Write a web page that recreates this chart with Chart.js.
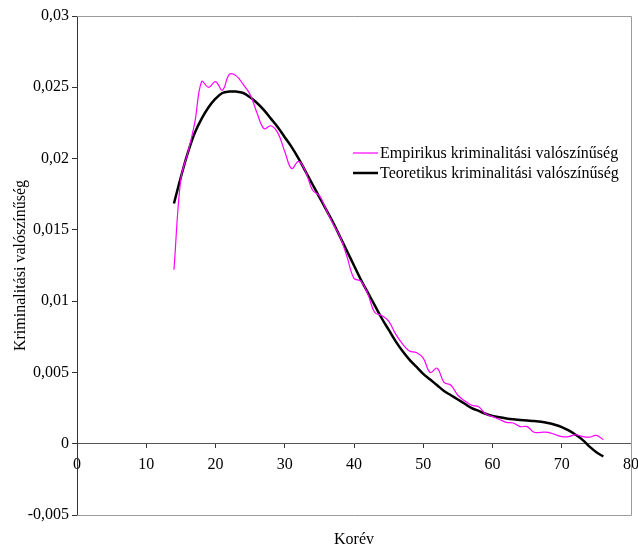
<!DOCTYPE html>
<html>
<head>
<meta charset="utf-8">
<script src="https://cdn.jsdelivr.net/npm/chart.js@4"></script>
<style>
  html, body { margin: 0; padding: 0; background: #fff; }
  #wrap { width: 638px; height: 545px; }
</style>
</head>
<body>
<div id="wrap"><canvas id="crimeChart" width="638" height="545"></canvas></div>
<script>
// age in years
const ages = [14, 15, 16, 17, 18, 19, 20, 21, 22, 23, 24, 25, 26, 27, 28, 29, 30,
  31, 32, 33, 34, 35, 36, 37, 38, 39, 40, 41, 42, 43, 44, 45, 46, 47, 48, 49, 50,
  51, 52, 53, 54, 55, 56, 57, 58, 59, 60, 61, 62, 63, 64, 65, 66, 67, 68, 69, 70,
  71, 72, 73, 74, 75, 76];

const empirical = [0.0122, 0.0186, 0.0204, 0.0225, 0.0254, 0.0250, 0.0254, 0.0248,
  0.0259, 0.0258, 0.0252, 0.0245, 0.0232, 0.0221, 0.0223, 0.0218, 0.0205,
  0.0193, 0.0198, 0.0191, 0.0178, 0.0174, 0.0164, 0.0154, 0.0145, 0.0131, 0.0116,
  0.0114, 0.0105, 0.0092, 0.0090, 0.0086, 0.0077, 0.0070, 0.0065, 0.0064, 0.0060,
  0.0050, 0.0053, 0.0043, 0.0041, 0.0034, 0.0030, 0.0027, 0.0026, 0.0021, 0.0019,
  0.0017, 0.0015, 0.00145, 0.0012, 0.0012, 0.0008, 0.0008, 0.0008, 0.00065, 0.0005,
  0.0005, 0.00063, 0.0005, 0.00046, 0.00058, 0.00028];

const theoretical = [0.01685, 0.0187, 0.0204, 0.0218, 0.0228, 0.0236, 0.0242, 0.0246,
  0.0247, 0.0247, 0.0246, 0.0243, 0.0239, 0.0234, 0.0228, 0.0222, 0.0215,
  0.0208, 0.0200, 0.0191, 0.0182, 0.0173, 0.0164, 0.0155, 0.0145, 0.0135, 0.0125,
  0.0115, 0.0106, 0.0097, 0.0088, 0.0080, 0.0072, 0.0065, 0.0059, 0.0054, 0.0049,
  0.0045, 0.0041, 0.0037, 0.0034, 0.0031, 0.0028, 0.0025, 0.0023, 0.0021, 0.00195,
  0.00185, 0.00177, 0.00171, 0.00167, 0.00163, 0.00159, 0.00154, 0.00145, 0.00133, 0.00117,
  0.00093, 0.00063, 0.00027, -0.0002, -0.0006, -0.0009];

const seriesNames = ['Empirikus kriminalitási valószínűség', 'Teoretikus kriminalitási valószínűség'];

const xMin = 0, xMax = 80, xStep = 10;
const yMin = -0.005, yMax = 0.03, yStep = 0.005;

function huNumber(v) {
  return String(Number(v.toFixed(3))).replace('.', ',');
}

// gray frame around the plot (top, right, bottom)
const frame = {
  id: 'frame',
  beforeDatasetsDraw(chart) {
    const { ctx, chartArea: a } = chart;
    ctx.save();
    ctx.strokeStyle = '#9a9a9a';
    ctx.lineWidth = 1;
    ctx.beginPath();
    ctx.moveTo(a.left, a.top + 0.5);
    ctx.lineTo(a.right + 0.5, a.top + 0.5);
    ctx.lineTo(a.right + 0.5, a.bottom + 0.5);
    ctx.lineTo(a.left, a.bottom + 0.5);
    ctx.stroke();
    ctx.restore();
  }
};

// legend inside the plot area, right side
const innerLegend = {
  id: 'innerLegend',
  afterDatasetsDraw(chart) {
    const { ctx } = chart;
    const x0 = 353, y0 = 153, rowH = 20, lineLen = 25;
    ctx.save();
    ctx.font = '16px "Liberation Serif", "Times New Roman", serif';
    ctx.textBaseline = 'middle';
    ctx.fillStyle = '#000';
    chart.data.datasets.forEach((ds, i) => {
      const y = y0 + i * rowH;
      ctx.strokeStyle = ds.borderColor;
      ctx.lineWidth = ds.borderWidth;
      ctx.beginPath();
      ctx.moveTo(x0, y);
      ctx.lineTo(x0 + lineLen, y);
      ctx.stroke();
      ctx.fillText(ds.label, x0 + lineLen + 2, y + 1);
    });
    ctx.restore();
  }
};

Chart.defaults.font.family = '"Liberation Serif", "Times New Roman", serif';
Chart.defaults.font.size = 16;
Chart.defaults.color = '#000';

const ctx = document.getElementById('crimeChart').getContext('2d');

new Chart(ctx, {
  type: 'line',
  data: {
    datasets: [{
      label: seriesNames[0],
      data: ages.map((a, i) => ({ x: a, y: empirical[i] })),
      borderColor: '#ff00ff',
      borderWidth: 1.2,
      pointRadius: 0,
      tension: 0.4,
      fill: false
    }, {
      label: seriesNames[1],
      data: ages.map((a, i) => ({ x: a, y: theoretical[i] })),
      borderColor: '#000000',
      borderWidth: 2.5,
      pointRadius: 0,
      tension: 0.4,
      fill: false
    }]
  },
  options: {
    responsive: false,
    animation: false,
    layout: { autoPadding: false, padding: { top: 16, right: 7, left: 0, bottom: 0 } },
    plugins: {
      legend: { display: false },
      tooltip: { enabled: false }
    },
    scales: {
      x: {
        type: 'linear',
        position: { y: 0 },
        min: xMin,
        max: xMax,
        ticks: { stepSize: xStep, padding: 7, maxRotation: 0 },
        grid: { drawOnChartArea: false, tickLength: 4, tickColor: '#333' },
        border: { color: '#555', width: 1 },
        afterFit(scale) { scale.paddingLeft = 0; scale.paddingRight = 0; }
      },
      x2: {
        type: 'linear',
        position: 'bottom',
        min: xMin,
        max: xMax,
        ticks: { display: false },
        grid: { display: false, drawTicks: false },
        border: { display: false },
        title: { display: true, text: 'Korév', padding: 0, font: { size: 16, lineHeight: 0.7 } },
        afterFit(scale) { scale.height = 30; scale.paddingLeft = 0; scale.paddingRight = 0; }
      },
      y: {
        min: yMin,
        max: yMax,
        ticks: {
          stepSize: yStep,
          padding: 3,
          callback: (v) => huNumber(v)
        },
        grid: { drawOnChartArea: false, tickLength: 5, tickColor: '#333' },
        border: { color: '#333', width: 1 },
        title: {
          display: true,
          text: 'Kriminalitási valószínűség',
          padding: { top: 13, bottom: 0 },
          font: { size: 16, lineHeight: 1 }
        },
        afterFit(scale) { scale.width = 77; scale.paddingTop = 0; scale.paddingBottom = 0; }
      }
    }
  },
  plugins: [frame, innerLegend]
});
</script>
</body>
</html>
